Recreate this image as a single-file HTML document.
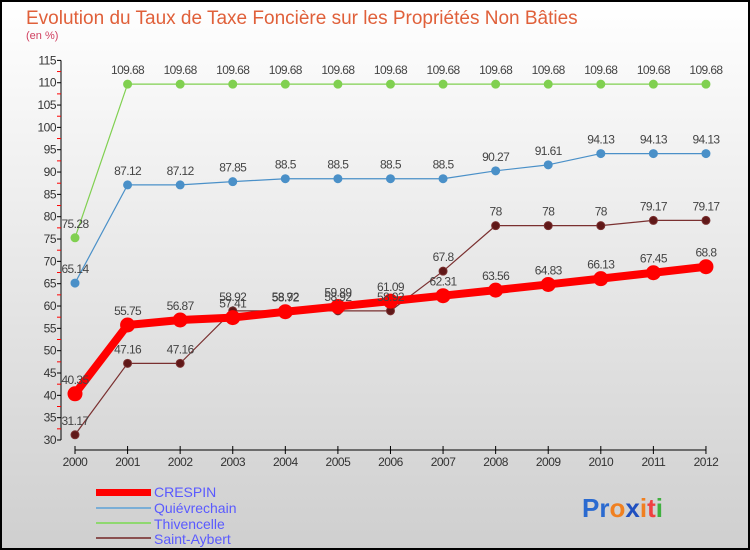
<!DOCTYPE html>
<html><head><meta charset="utf-8"><style>
body{margin:0}
svg{display:block;font-family:"Liberation Sans",sans-serif}
</style></head><body>
<svg id="c" width="750" height="550">
<defs><linearGradient id="bg" x1="0" y1="0" x2="0" y2="1"><stop offset="0" stop-color="#ffffff"/><stop offset="1" stop-color="#cfcfcf"/></linearGradient></defs>
<rect x="1" y="1" width="748" height="548" fill="url(#bg)" stroke="#000" stroke-width="2"/>
<text x="26" y="24" font-size="19" fill="#e0603a">Evolution du Taux de Taxe Foncière sur les Propriétés Non Bâties</text>
<text x="26" y="39" font-size="11" fill="#d04060">(en %)</text>
<g id="axes"></g><g id="series"></g><g id="labels"></g>
<g>
<rect x="96" y="489" width="55" height="7" fill="#f00"/>
<text x="154" y="497" font-size="14" fill="#5a5aff">CRESPIN</text>
<rect x="96" y="507" width="55" height="2" fill="#7aaed6"/>
<text x="154" y="513" font-size="14" fill="#5a5aff">Quiévrechain</text>
<rect x="96" y="522" width="55" height="2" fill="#8fd870"/>
<text x="154" y="529" font-size="14" fill="#5a5aff">Thivencelle</text>
<rect x="96" y="537" width="55" height="2" fill="#8a5050"/>
<text x="154" y="544" font-size="14" fill="#5a5aff">Saint-Aybert</text>
</g>
<text x="582" y="517" font-size="26" font-weight="bold"><tspan fill="#2a6ad0">Pr</tspan><tspan fill="#f08020">o</tspan><tspan fill="#2050c0">x</tspan><tspan fill="#f08020">i</tspan><tspan fill="#f04040">t</tspan><tspan fill="#40b040">i</tspan></text>
</svg>
<script>
const years=[2000,2001,2002,2003,2004,2005,2006,2007,2008,2009,2010,2011,2012];
const crespin=[40.35,55.75,56.87,57.41,58.72,59.89,61.09,62.31,63.56,64.83,66.13,67.45,68.8];
const quievrechain=[65.14,87.12,87.12,87.85,88.5,88.5,88.5,88.5,90.27,91.61,94.13,94.13,94.13];
const thivencelle=[75.28,109.68,109.68,109.68,109.68,109.68,109.68,109.68,109.68,109.68,109.68,109.68,109.68];
const saintAybert=[31.17,47.16,47.16,58.92,58.92,58.92,58.92,67.8,78,78,78,79.17,79.17];
const yTicks=[30,35,40,45,50,55,60,65,70,75,80,85,90,95,100,105,110,115];
const NS='http://www.w3.org/2000/svg';
const X=i=>75+i*52.58;
const Y=v=>440-(v-30)*4.466;
function mk(t,a,p){const e=document.createElementNS(NS,t);for(const k in a)e.setAttribute(k,a[k]);p.appendChild(e);return e;}
const ax=document.getElementById('axes'),sg=document.getElementById('series'),lg=document.getElementById('labels');
const yl=mk('line',{x1:61,y1:Y(115),x2:61,y2:Y(30),stroke:'#000'},ax);


const xl=mk('line',{x1:75,y1:450,x2:706,y2:450,stroke:'#000'},ax);


yTicks.forEach(v=>{
 mk('line',{x1:57,y1:Y(v),x2:61,y2:Y(v),stroke:'#000'},ax);
 if(v<115)mk('line',{x1:57,y1:Y(v+2.5),x2:61,y2:Y(v+2.5),stroke:'#f00'},ax);
 const t=mk('text',{x:56,y:Y(v)+4,'font-size':12,'text-anchor':'end',fill:'#333','letter-spacing':'-0.5'},ax);
 t.textContent=v;
 
 
});
years.forEach((yr,i)=>{
 mk('line',{x1:X(i),y1:446,x2:X(i),y2:454,stroke:'#000'},ax);
 const t=mk('text',{x:X(i),y:466,'font-size':12,'text-anchor':'middle',fill:'#333','letter-spacing':'-0.5'},ax);
 t.textContent=yr;
 
 
});
function series(name,data,color,w,r,dot){
 const pts=data.map((v,i)=>X(i)+','+Y(v)).join(' ');
 const pl=mk('polyline',{points:pts,fill:'none',stroke:color,'stroke-width':w,'stroke-linejoin':'round'},sg);
 
 
 data.forEach((v,i)=>{
  const c=mk('circle',{cx:X(i),cy:Y(v),r:r,fill:dot,stroke:color,'stroke-width':1},sg);
  
  
  const t=mk('text',{x:X(i),y:Y(v)-10,'font-size':12,'text-anchor':'middle',fill:'#444','letter-spacing':'-0.6'},lg);
  t.textContent=v;
  
  
 });
}
series('thivencelle',thivencelle,'#80d050',1.2,4,'#80d050');
series('quievrechain',quievrechain,'#4a90c8',1.2,4,'#4a90c8');
series('saint-aybert',saintAybert,'#7a3030',1.2,4,'#601818');
series('crespin',crespin,'#f00',8,7,'#f00');
</script>
</body></html>
